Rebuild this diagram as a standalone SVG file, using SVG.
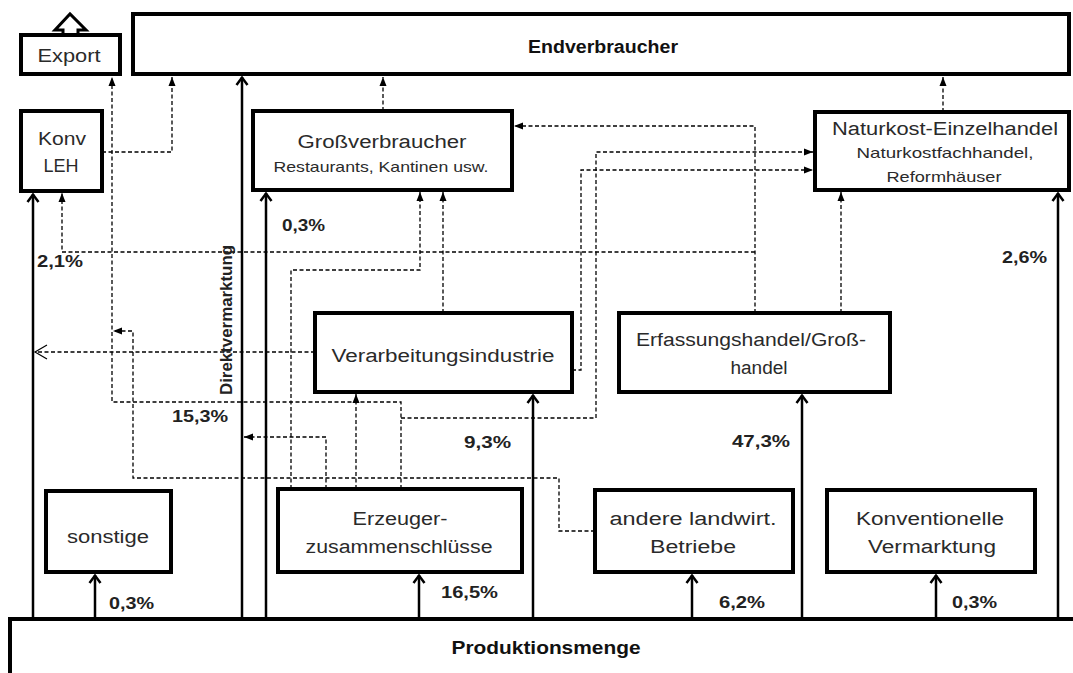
<svg xmlns="http://www.w3.org/2000/svg" width="1073" height="673" viewBox="0 0 1073 673">
<style>
.box{fill:#fff;stroke:#000;stroke-width:4}
.t{font-family:"Liberation Sans",Arial,sans-serif;font-size:18px;fill:#2a2a2a;text-anchor:middle}
.s{font-size:15px}
.b{font-weight:bold;fill:#111}
.p{font-family:"Liberation Sans",Arial,sans-serif;font-size:16px;font-weight:bold;fill:#222}
.sl{fill:none;stroke:#000;stroke-width:2.5;marker-end:url(#chev)}
.dl{fill:none;stroke:#000;stroke-width:1.3;stroke-dasharray:4 2.5;marker-end:url(#tri)}
</style>
<defs>
<marker id="tri" markerUnits="userSpaceOnUse" markerWidth="10" markerHeight="8" viewBox="0 0 10 8" refX="9" refY="4" orient="auto"><path d="M0,0.5 L9,4 L0,7.5 z" fill="#000"/></marker>
<marker id="chev" markerUnits="userSpaceOnUse" markerWidth="14" markerHeight="14" viewBox="0 0 14 14" refX="11" refY="7" orient="auto"><path d="M3,1.5 L10.5,7 L3,12.5" fill="none" stroke="#000" stroke-width="2.5"/></marker>
<marker id="open" markerUnits="userSpaceOnUse" markerWidth="16" markerHeight="16" viewBox="0 0 16 16" refX="14" refY="8" orient="auto"><path d="M2,1 L14,8 L2,15" fill="none" stroke="#000" stroke-width="1.2"/></marker>
</defs>
<rect width="1073" height="673" fill="#fff"/>

<g id="endverbraucher"><rect class="box" x="133" y="14" width="936" height="60"/><text class="t b" x="603" y="53" font-size="17" textLength="150" lengthAdjust="spacingAndGlyphs">Endverbraucher</text></g>
<g id="export"><polygon points="63,35 63,30 55,30 70,14 86,30 78,30 78,35" fill="#fff" stroke="#000" stroke-width="3" stroke-linejoin="miter"/><rect class="box" x="21" y="35" width="99" height="39"/><text class="t" x="69" y="62" textLength="63" lengthAdjust="spacingAndGlyphs">Export</text></g>
<g id="konv-leh"><rect class="box" x="21" y="111" width="81" height="80"/><text class="t" x="62" y="145" textLength="48" lengthAdjust="spacingAndGlyphs">Konv</text><text class="t" x="61" y="172" textLength="35" lengthAdjust="spacingAndGlyphs">LEH</text></g>
<g id="grossverbraucher"><rect class="box" x="253" y="111" width="259" height="79"/><text class="t" x="382" y="148" textLength="169" lengthAdjust="spacingAndGlyphs">Großverbraucher</text><text class="t s" x="381" y="172" textLength="215" lengthAdjust="spacingAndGlyphs">Restaurants, Kantinen usw.</text></g>
<g id="naturkost"><rect class="box" x="815" y="112" width="254" height="78"/><text class="t" x="945" y="135" textLength="226" lengthAdjust="spacingAndGlyphs">Naturkost-Einzelhandel</text><text class="t s" x="945" y="158" textLength="177" lengthAdjust="spacingAndGlyphs">Naturkostfachhandel,</text><text class="t s" x="944" y="182" textLength="115" lengthAdjust="spacingAndGlyphs">Reformhäuser</text></g>
<g id="verarbeitung"><rect class="box" x="315" y="313" width="257" height="79"/><text class="t" x="443" y="362" textLength="223" lengthAdjust="spacingAndGlyphs">Verarbeitungsindustrie</text></g>
<g id="erfassung"><rect class="box" x="619" y="313" width="271" height="79"/><text class="t" x="751" y="346" textLength="230" lengthAdjust="spacingAndGlyphs">Erfassungshandel/Groß-</text><text class="t" x="759" y="374" textLength="57" lengthAdjust="spacingAndGlyphs">handel</text></g>
<g id="sonstige"><rect class="box" x="46" y="491" width="125" height="81"/><text class="t" x="108" y="543" textLength="82" lengthAdjust="spacingAndGlyphs">sonstige</text></g>
<g id="erzeuger"><rect class="box" x="278" y="489" width="244" height="83"/><text class="t" x="400" y="525" textLength="95" lengthAdjust="spacingAndGlyphs">Erzeuger-</text><text class="t" x="399" y="553" textLength="187" lengthAdjust="spacingAndGlyphs">zusammenschlüsse</text></g>
<g id="andere"><rect class="box" x="595" y="490" width="198" height="82"/><text class="t" x="693" y="525" textLength="167" lengthAdjust="spacingAndGlyphs">andere landwirt.</text><text class="t" x="693" y="553" textLength="86" lengthAdjust="spacingAndGlyphs">Betriebe</text></g>
<g id="konventionelle"><rect class="box" x="827" y="490" width="208" height="82"/><text class="t" x="930" y="525" textLength="148" lengthAdjust="spacingAndGlyphs">Konventionelle</text><text class="t" x="932" y="553" textLength="128" lengthAdjust="spacingAndGlyphs">Vermarktung</text></g>
<g id="produktionsmenge"><rect class="box" x="10" y="619" width="1080" height="80"/><text class="t b" x="546" y="654" font-size="17" textLength="189" lengthAdjust="spacingAndGlyphs">Produktionsmenge</text></g>

<g id="connectors">
<path class="sl" d="M33,619 V194"/>
<path class="sl" d="M95,619 V575"/>
<path class="sl" d="M242,619 V77"/>
<path class="sl" d="M266,619 V193"/>
<path class="sl" d="M419,619 V575"/>
<path class="sl" d="M533,619 V395"/>
<path class="sl" d="M692,619 V575"/>
<path class="sl" d="M802,619 V395"/>
<path class="sl" d="M936,619 V575"/>
<path class="sl" d="M1058,619 V193"/>
<path class="dl" d="M102,152 H172 V77"/>
<path class="dl" d="M401,489 V402 H112 V77"/>
<path class="dl" d="M595,531 H559 V478 H133 V331 H113"/>
<path class="dl" d="M401,418 H596 V152 H813"/>
<path class="dl" d="M572,370 H581 V170 H813"/>
<path class="dl" d="M755,313 V126 H514"/>
<path class="dl" d="M755,252 H62 V193"/>
<path class="dl" d="M841,313 V192"/>
<path class="dl" d="M943,112 V77"/>
<path class="dl" d="M383,111 V77"/>
<path class="dl" d="M291,489 V270 H420 V192"/>
<path class="dl" d="M443,313 V192"/>
<path class="dl" d="M315,352 H35" style="marker-end:url(#open)"/>
<path class="dl" d="M326,489 V437 H244"/>
<path class="dl" d="M356,489 V394"/>
</g>

<g id="labels">
<text class="p" x="109" y="609" textLength="45" lengthAdjust="spacingAndGlyphs">0,3%</text>
<text class="p" x="441" y="598" textLength="57" lengthAdjust="spacingAndGlyphs">16,5%</text>
<text class="p" x="719" y="608" textLength="46" lengthAdjust="spacingAndGlyphs">6,2%</text>
<text class="p" x="952" y="608" textLength="45" lengthAdjust="spacingAndGlyphs">0,3%</text>
<text class="p" x="282" y="231" textLength="43" lengthAdjust="spacingAndGlyphs">0,3%</text>
<text class="p" x="37" y="267" textLength="46" lengthAdjust="spacingAndGlyphs">2,1%</text>
<text class="p" x="172" y="422" textLength="56" lengthAdjust="spacingAndGlyphs">15,3%</text>
<text class="p" x="464" y="448" textLength="47" lengthAdjust="spacingAndGlyphs">9,3%</text>
<text class="p" x="732" y="447" textLength="58" lengthAdjust="spacingAndGlyphs">47,3%</text>
<text class="p" x="1002" y="263" textLength="45" lengthAdjust="spacingAndGlyphs">2,6%</text>
<text class="p" transform="translate(232,320) rotate(-90)" x="0" y="0" text-anchor="middle" font-size="14" textLength="150" lengthAdjust="spacingAndGlyphs">Direktvermarktung</text>
</g>
</svg>
